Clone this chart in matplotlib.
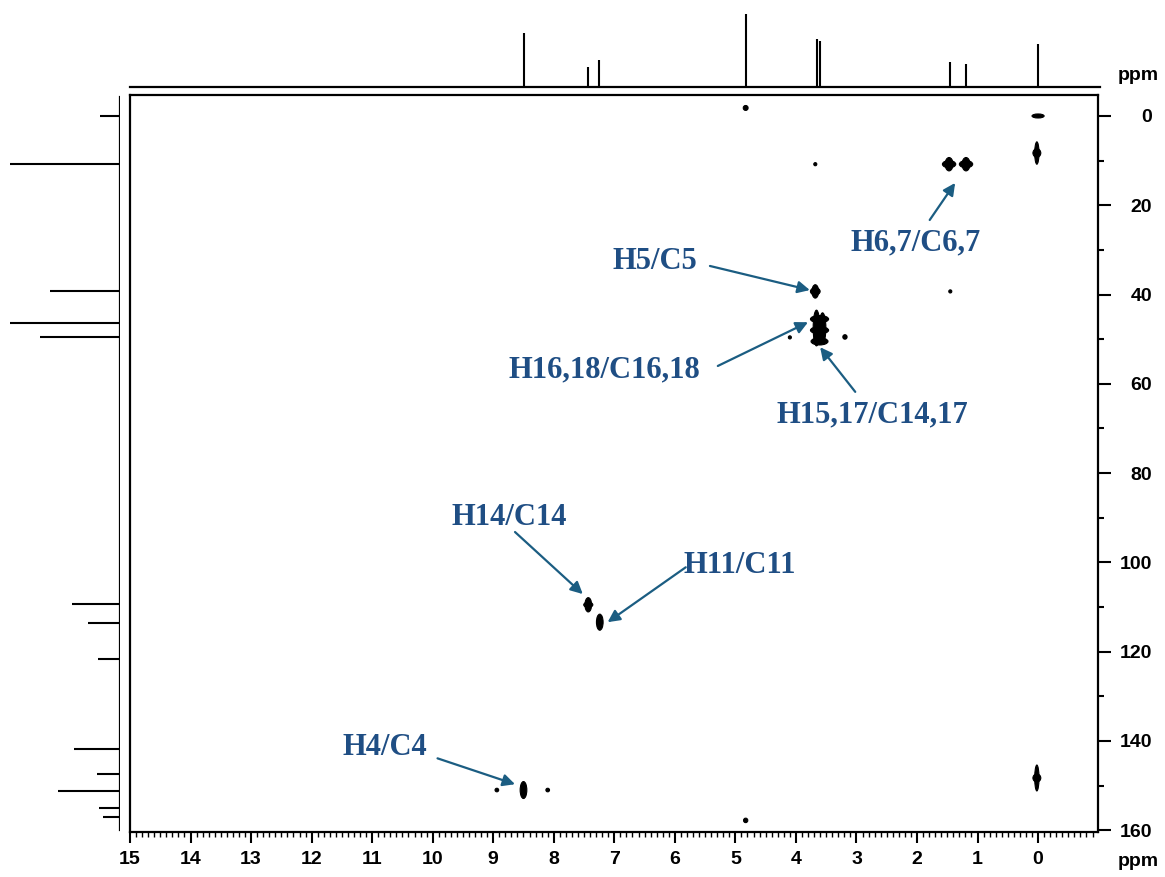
import matplotlib
matplotlib.use("Agg")
import matplotlib.pyplot as plt
from matplotlib.patches import Ellipse
from matplotlib.ticker import MultipleLocator

# 1H projection (top): shift in ppm, relative intensity
h1_shift = [8.50, 7.43, 7.25, 4.83, 3.66, 3.60, 1.46, 1.19, 0.00]
h1_int = [75, 28, 37, 100, 66, 63, 35, 31, 59]

# 13C projection (left): shift in ppm, relative intensity
c13_shift = [0.0, 10.8, 39.2, 46.4, 49.5, 109.4, 113.6, 121.7, 141.8, 147.4, 151.3, 155.1, 157.1]
c13_int = [20, 110, 70, 110, 80, 48, 32, 22, 46, 23, 62, 21, 17]

# HSQC cross peaks: 1H shift, 13C shift, 1H linewidth, 13C linewidth (ppm)
peak_h = [4.83, 0.00, 0.02, 0.02, 3.68, 1.47, 1.47, 1.19, 1.19, 3.68, 3.68, 1.45,
          3.66, 3.56, 3.61, 3.61, 3.61, 4.10, 3.19, 7.43, 7.43, 7.24, 8.50,
          8.94, 8.10, 4.83, 0.02, 0.02]
peak_c = [-1.8, 0.0, 8.3, 8.3, 10.8, 10.8, 10.8, 10.8, 10.8, 39.3, 39.3, 39.3,
          47.5, 47.5, 45.5, 48.0, 50.5, 49.6, 49.5, 109.5, 109.5, 113.4, 151.0,
          151.0, 151.0, 157.8, 148.3, 148.3]
peak_dh = [0.08, 0.20, 0.07, 0.13, 0.05, 0.22, 0.13, 0.22, 0.13, 0.16, 0.11, 0.05,
           0.11, 0.11, 0.30, 0.30, 0.28, 0.05, 0.07, 0.11, 0.15, 0.11, 0.11,
           0.06, 0.06, 0.07, 0.07, 0.13]
peak_dc = [1.1, 0.9, 5.0, 1.9, 0.7, 1.6, 3.0, 1.6, 3.0, 1.6, 3.0, 0.7,
           8.0, 6.8, 1.6, 1.6, 1.6, 0.7, 1.0, 3.2, 1.2, 3.6, 3.8,
           0.8, 0.8, 1.0, 5.8, 1.8]

# assignments: label, text position, arrow start, arrow tip (1H ppm, 13C ppm)
labels = ["H5/C5", "H6,7/C6,7", "H16,18/C16,18", "H15,17/C14,17",
          "H14/C14", "H11/C11", "H4/C4"]
label_xy = [(6.33, 32.7), (2.03, 28.5), (7.16, 56.9), (2.74, 67.0),
            (8.73, 89.9), (4.93, 100.6), (10.79, 141.4)]
arrow_from = [(5.42, 33.6), (1.79, 23.3), (5.29, 56.0), (3.02, 61.8),
              (8.64, 93.2), (5.82, 101.1), (9.92, 143.9)]
arrow_to = [(3.77, 39.0), (1.37, 15.0), (3.80, 46.2), (3.60, 51.8),
            (7.52, 107.1), (7.11, 113.4), (8.64, 149.7)]

W, H = 1165, 877
fig = plt.figure(figsize=(W / 100, H / 100), dpi=100)


def box(l, t, r, b):
    return [l / W, 1 - b / H, (r - l) / W, (b - t) / H]


tickfont = {"family": "Liberation Sans", "weight": "bold", "size": 14}

ax = fig.add_axes(box(130, 95, 1098, 832))
ax.set_xlim(15.0, -0.99)
ax.set_ylim(160.4, -4.7)
for s in ax.spines.values():
    s.set_linewidth(1.6)

ax.xaxis.set_major_locator(MultipleLocator(1))
ax.xaxis.set_minor_locator(MultipleLocator(0.1))
ax.yaxis.set_major_locator(MultipleLocator(20))
ax.yaxis.set_minor_locator(MultipleLocator(10))
ax.yaxis.tick_right()
ax.tick_params(axis="x", which="major", direction="out", length=8, width=1.5, pad=6)
ax.tick_params(axis="x", which="minor", direction="out", length=3.5, width=1)
ax.tick_params(axis="y", which="major", direction="out", length=9, width=1.5, pad=30)
ax.tick_params(axis="y", which="minor", direction="out", length=4, width=1.5)
ax.set_xticks(range(0, 16))
ax.set_xticklabels([str(v) for v in range(0, 16)], fontdict=tickfont)
ax.set_yticks(range(0, 161, 20))
ax.set_yticklabels([str(v) for v in range(0, 161, 20)], fontdict=tickfont, ha="right")

# cross peaks
for x, y, dx, dy in zip(peak_h, peak_c, peak_dh, peak_dc):
    ax.add_patch(Ellipse((x, y), dx, dy, facecolor="black", edgecolor="black", lw=0.8))

# assignment labels with arrows
for lab, txt, a0, a1 in zip(labels, label_xy, arrow_from, arrow_to):
    ax.text(txt[0], txt[1], lab, ha="center", va="center", color="#1f4e84",
            family="Liberation Serif", weight="bold", size=22)
    ax.annotate("", xy=a1, xytext=a0,
                arrowprops=dict(arrowstyle="-|>", color="#1b5d82", lw=1.6,
                                mutation_scale=18, shrinkA=0, shrinkB=0))

# 1H projection on top
top = fig.add_axes(box(130, 10, 1100, 87))
top.set_xlim(15.0, -1.02)
top.set_ylim(0, 106)
top.axis("off")
top.axhline(0, color="black", lw=1.6, clip_on=False)
top.vlines(h1_shift, 0, h1_int, color="black", lw=1.5)

# 13C projection on the left
left = fig.add_axes(box(5, 95, 120, 832))
left.set_ylim(160.4, -4.7)
left.set_xlim(115, 0)
left.axis("off")
left.plot([0, 0], [-4.3, 160.0], color="black", lw=1.6)
left.hlines(c13_shift, 0, c13_int, color="black", lw=1.5)

fig.text(1138 / W, 1 - 76 / H, "ppm", ha="center", va="center", fontdict=tickfont)
fig.text(1138 / W, 1 - 862 / H, "ppm", ha="center", va="center", fontdict=tickfont)

fig.savefig("out.png", dpi=100)
